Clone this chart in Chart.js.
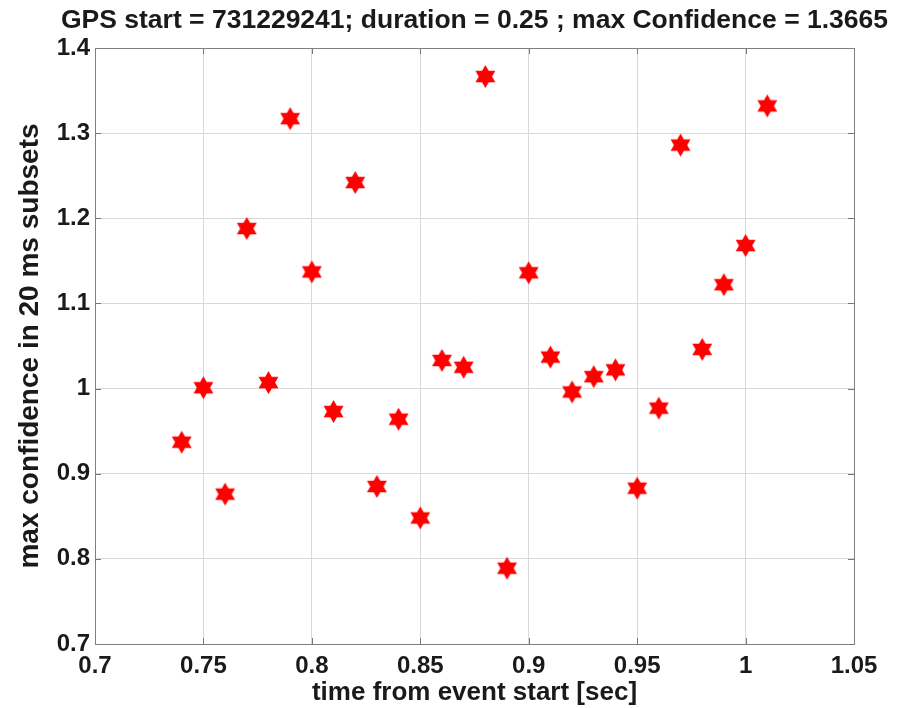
<!DOCTYPE html>
<html>
<head>
<meta charset="utf-8">
<script src="https://cdn.jsdelivr.net/npm/chart.js"></script>
<style>
  html, body { margin: 0; padding: 0; background: #fff; }
</style>
</head>
<body>
<canvas id="chartConfidence" width="901" height="708"></canvas>
<script>
    // thoi diem (s) va do tin cay lon nhat cua tung doan 20 ms
    const times = [0.74, 0.75, 0.76, 0.77, 0.78, 0.79, 0.80, 0.81, 0.82, 0.83,
                   0.84, 0.85, 0.86, 0.87, 0.88, 0.89, 0.90, 0.91, 0.92, 0.93,
                   0.94, 0.95, 0.96, 0.97, 0.98, 0.99, 1.00, 1.01];
    const confidence = [0.937, 1.001, 0.876, 1.188, 1.007, 1.317, 1.137, 0.973, 1.242, 0.885,
                        0.964, 0.848, 1.033, 1.025, 1.3665, 0.789, 1.136, 1.037, 0.996, 1.014,
                        1.022, 0.883, 0.977, 1.286, 1.046, 1.122, 1.168, 1.332];
    const xTicks = [0.7, 0.75, 0.8, 0.85, 0.9, 0.95, 1, 1.05];
    const yTicks = [0.7, 0.8, 0.9, 1, 1.1, 1.2, 1.3, 1.4];

    const titleText = 'GPS start = 731229241; duration = 0.25 ; max Confidence = 1.3665';

    const fam = "'Liberation Sans', Arial, sans-serif";
    const tickFont = { family: fam, size: 24, weight: 'bold' };

    // ngoi sao 6 canh mau do
    function makeHexagram(r) {
        let c = document.createElement('canvas');
        c.width = c.height = Math.ceil(r * 2 + 2);
        let g = c.getContext('2d');
        g.translate(c.width / 2, c.height / 2);
        g.fillStyle = '#ff0000';
        g.beginPath();
        for (let i = 0; i < 12; i++) {
            let a = -Math.PI / 2 + i * Math.PI / 6;
            let rr = (i % 2 === 0) ? r : r * 0.577;
            g.lineTo(rr * Math.cos(a), rr * Math.sin(a));
        }
        g.closePath();
        g.fill();
        return c;
    }
    const star = makeHexagram(11.5);

    // tieu de canh giua theo vung ve (khong bi co chu)
    const plotTitle = {
        id: 'plotTitle',
        afterDraw(chart) {
            let ctx = chart.ctx, a = chart.chartArea;
            ctx.save();
            ctx.font = 'bold 26.5px ' + fam;
            ctx.fillStyle = '#1a1a1a';
            ctx.textAlign = 'center';
            ctx.textBaseline = 'middle';
            ctx.fillText(titleText, (a.left + a.right) / 2, 21);
            ctx.restore();
        }
    };

    // vach chia nho ben trong khung + khung vien
    const innerTicks = {
        id: 'innerTicks',
        afterDatasetsDraw(chart) {
            let ctx = chart.ctx, a = chart.chartArea;
            let xs = chart.scales.x, ys = chart.scales.y;
            ctx.save();
            ctx.strokeStyle = '#777';
            ctx.lineWidth = 1;
            ctx.beginPath();
            xTicks.forEach(v => {
                let px = Math.round(xs.getPixelForValue(v)) + 0.5;
                ctx.moveTo(px, a.bottom); ctx.lineTo(px, a.bottom - 6);
                ctx.moveTo(px, a.top); ctx.lineTo(px, a.top + 6);
            });
            yTicks.forEach(v => {
                let py = Math.round(ys.getPixelForValue(v)) + 0.5;
                ctx.moveTo(a.left, py); ctx.lineTo(a.left + 6, py);
                ctx.moveTo(a.right, py); ctx.lineTo(a.right - 6, py);
            });
            ctx.stroke();
            ctx.strokeStyle = '#808080';
            ctx.strokeRect(Math.round(a.left) + 0.5, Math.round(a.top) + 0.5,
                           Math.round(a.right - a.left), Math.round(a.bottom - a.top));
            ctx.restore();
        }
    };

    let ctx = document.getElementById('chartConfidence').getContext('2d');
    let myChart = new Chart(ctx, {
        type: 'scatter',
        data: {
            datasets: [{
                label: 'max confidence',
                data: times.map((t, i) => ({ x: t, y: confidence[i] })),
                pointStyle: star,
                pointRadius: 11.5,
                pointHoverRadius: 11.5
            }]
        },
        options: {
            responsive: false,
            animation: false,
            // chua cho tieu de o tren
            layout: { padding: { left: 0, right: 47, top: 48, bottom: 0 } },
            plugins: {
                legend: { display: false },
                tooltip: { enabled: false },
                title: { display: false }
            },
            scales: {
                x: {
                    type: 'linear',
                    min: 0.7, max: 1.05,
                    afterBuildTicks: s => { s.ticks = xTicks.map(v => ({ value: v })); },
                    afterFit: s => { s.height = 64; },
                    grid: { color: '#d8d8d8', drawTicks: false },
                    border: { display: false },
                    ticks: {
                        color: '#1a1a1a', font: tickFont, padding: 8,
                        callback: v => String(v)
                    },
                    title: {
                        display: true, text: 'time from event start [sec]',
                        color: '#1a1a1a', font: { family: fam, size: 26, weight: 'bold' },
                        padding: { top: 0, bottom: 0 }
                    }
                },
                y: {
                    min: 0.7, max: 1.4,
                    afterBuildTicks: s => { s.ticks = yTicks.map(v => ({ value: v })); },
                    afterFit: s => { s.width = 95; },
                    grid: { color: '#d8d8d8', drawTicks: false },
                    border: { display: false },
                    ticks: {
                        color: '#1a1a1a', font: tickFont, padding: 5,
                        callback: v => String(v)
                    },
                    title: {
                        display: true, text: 'max confidence in 20 ms subsets',
                        color: '#1a1a1a', font: { family: fam, size: 28, weight: 'bold' },
                        padding: { top: 13, bottom: 0 }
                    }
                }
            }
        },
        plugins: [innerTicks, plotTitle]
    });
</script>
</body>
</html>
